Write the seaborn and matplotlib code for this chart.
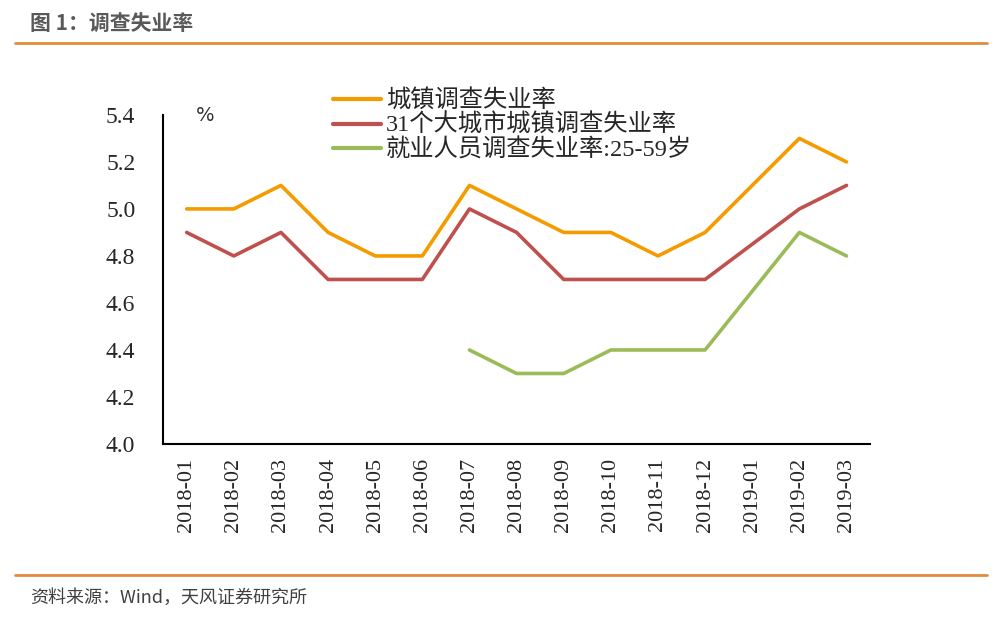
import numpy as np
import pandas as pd
import matplotlib
matplotlib.use("Agg")
import matplotlib.pyplot as plt
import seaborn as sns

# 数据（2019-01 无数据，线条直接相连）
months = ["2018-01", "2018-02", "2018-03", "2018-04", "2018-05", "2018-06",
          "2018-07", "2018-08", "2018-09", "2018-10", "2018-11", "2018-12",
          "2019-01", "2019-02", "2019-03"]
urban = [5.0, 5.0, 5.1, 4.9, 4.8, 4.8, 5.1, 5.0, 4.9, 4.9, 4.8, 4.9, np.nan, 5.3, 5.2]
city31 = [4.9, 4.8, 4.9, 4.7, 4.7, 4.7, 5.0, 4.9, 4.7, 4.7, 4.7, 4.7, np.nan, 5.0, 5.1]
age2559 = [np.nan, np.nan, np.nan, np.nan, np.nan, np.nan, 4.4, 4.3, 4.3, 4.4, 4.4, 4.4, np.nan, 4.9, 4.8]
series_names = ["城镇调查失业率", "31个大城市城镇调查失业率", "就业人员调查失业率:25-59岁"]
colors = ["#F59B00", "#C0504D", "#9BBB59"]

sns.set_style("white")
plt.rcParams["font.family"] = ["Liberation Serif", "Noto Sans CJK SC"]

df = pd.DataFrame({"pos": range(len(months)),
                   series_names[0]: urban,
                   series_names[1]: city31,
                   series_names[2]: age2559})
long = df.melt(id_vars="pos", var_name="series", value_name="rate").dropna()

fig = plt.figure(figsize=(10.07, 6.21), dpi=100)
ax = fig.add_axes([0.162, 0.285, 0.702, 0.53])

sns.lineplot(data=long, x="pos", y="rate", hue="series", hue_order=series_names,
             palette=colors, linewidth=2.6, ax=ax, sort=True)

ax.set_xlim(-0.5, len(months) - 0.5)
ax.set_ylim(4.0, 5.4)
ax.set_yticks(np.arange(4.0, 5.41, 0.2))
ax.set_yticklabels([f"{v:.1f}" for v in np.arange(4.0, 5.41, 0.2)], fontsize=17)
ax.set_xticks(range(len(months)))
ax.set_xticklabels(months, rotation=90, fontsize=16)
ax.set_xticks(np.arange(-0.5, len(months), 1.0), minor=True)
ax.tick_params(axis="x", which="major", length=0, pad=10)
ax.tick_params(axis="x", which="minor", length=5, width=1.2, direction="out", color="black")
ax.tick_params(axis="y", length=5, width=1.2, direction="out", color="black", pad=15)
ax.set_xlabel("")
ax.set_ylabel("")
for s in ["top", "right"]:
    ax.spines[s].set_visible(False)
for s in ["left", "bottom"]:
    ax.spines[s].set_color("black")
    ax.spines[s].set_linewidth(1.5)

leg = ax.legend(loc="upper left", bbox_to_anchor=(0.226, 1.106), frameon=False,
                fontsize=17.5, handlelength=2.0, handletextpad=0.2, labelspacing=0.05,
                borderaxespad=0)
for line in leg.get_lines():
    line.set_linewidth(3)

fig.text(0.195, 0.805, "%", fontsize=14, family="DejaVu Sans", color="#333333")

# 标题与来源
fig.text(0.03, 0.962, "图 1：调查失业率", fontsize=15, fontweight="bold",
         color="#595959", family=["Noto Sans CJK SC"], va="center")
fig.add_artist(plt.Line2D([0.015, 0.98], [0.93, 0.93], color="#E38B3C", linewidth=2))
fig.add_artist(plt.Line2D([0.015, 0.98], [0.074, 0.074], color="#E38B3C", linewidth=2))
fig.text(0.03, 0.038, "资料来源：Wind，天风证券研究所", fontsize=13,
         color="#404040", family=["Noto Sans CJK SC"], va="center")

fig.savefig("out.png", dpi=100, facecolor="white")
